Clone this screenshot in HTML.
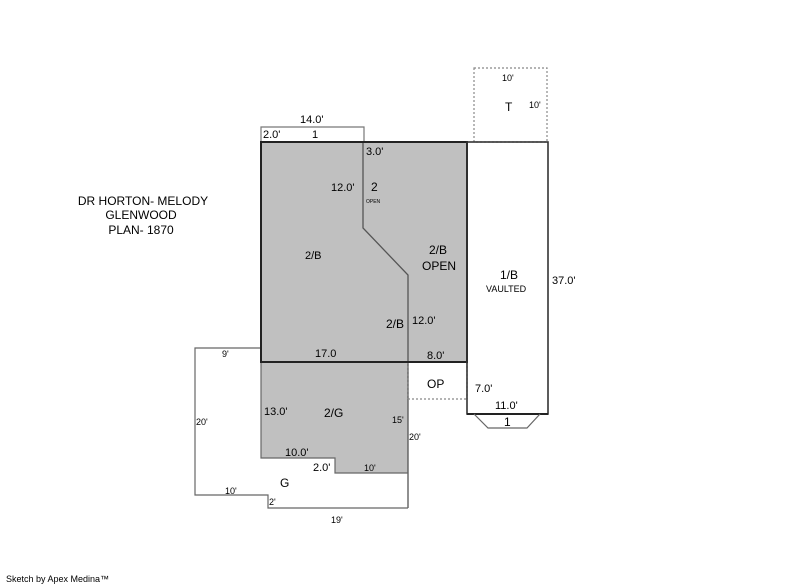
<!DOCTYPE html>
<html><head><style>body{margin:0;background:#fff}svg{display:block}text{font-family:"Liberation Sans",Arial,sans-serif;fill:#000}</style></head>
<body>
<svg width="800" height="587" viewBox="0 0 800 587" xmlns="http://www.w3.org/2000/svg">
<rect x="261" y="142" width="206" height="220" fill="#c0c0c0"/>
<polygon points="261,362 408,362 408,473 335,473 335,458 261,458" fill="#c0c0c0"/>
<rect x="474" y="68" width="73" height="74" fill="none" stroke="#888" stroke-width="1.2" stroke-dasharray="2,2"/>
<polyline points="261,142 261,127 364,127 364,142" fill="none" stroke="#777" stroke-width="1.2"/>
<polyline points="363,142 363,228 408,275 408,508" fill="none" stroke="#555" stroke-width="1.3"/>
<polyline points="261,362 261,458 335,458 335,473 408,473" fill="none" stroke="#666" stroke-width="1.2"/>
<polyline points="261,348 195,348 195,495 268,495 268,508 408,508" fill="none" stroke="#666" stroke-width="1.2"/>
<polyline points="408,399 467,399" fill="none" stroke="#888" stroke-width="1.2" stroke-dasharray="2,2"/>
<line x1="467" y1="362" x2="467" y2="399" stroke="#888" stroke-width="1.2" stroke-dasharray="2,2"/>
<line x1="408" y1="362" x2="408" y2="399" stroke="#777" stroke-width="1.2" stroke-dasharray="2,2"/>
<rect x="261" y="142" width="206" height="220" fill="none" stroke="#222" stroke-width="2"/>
<rect x="467" y="142" width="81" height="272" fill="none" stroke="#333" stroke-width="1.6"/>
<line x1="467" y1="414" x2="548" y2="414" stroke="#222" stroke-width="2"/>
<polyline points="474,414 488,428 527,428 540,414" fill="none" stroke="#666" stroke-width="1.2"/>
<g font-size="12" text-anchor="middle">
<text x="143" y="205">DR HORTON- MELODY</text>
<text x="141" y="219">GLENWOOD</text>
<text x="141" y="234">PLAN- 1870</text>
</g>
<g font-size="11">
<text x="300" y="123">14.0'</text>
<text x="263" y="138">2.0'</text>
<text x="312" y="138">1</text>
<text x="366" y="155">3.0'</text>
<text x="331" y="191">12.0'</text>
<text x="371" y="191" font-size="12">2</text>
<text x="366" y="203" font-size="5">OPEN</text>
<text x="305" y="259">2/B</text>
<text x="429" y="254" font-size="12">2/B</text>
<text x="422" y="270" font-size="12">OPEN</text>
<text x="500" y="279" font-size="12">1/B</text>
<text x="486" y="292" font-size="9">VAULTED</text>
<text x="552" y="284">37.0'</text>
<text x="386" y="328" font-size="12">2/B</text>
<text x="412" y="324">12.0'</text>
<text x="315" y="357">17.0</text>
<text x="427" y="359">8.0'</text>
<text x="222" y="357" font-size="9">9'</text>
<text x="427" y="388" font-size="12">OP</text>
<text x="475" y="392">7.0'</text>
<text x="495" y="409">11.0'</text>
<text x="504" y="426" font-size="12">1</text>
<text x="264" y="415">13.0'</text>
<text x="324" y="417" font-size="12">2/G</text>
<text x="392" y="423" font-size="9">15'</text>
<text x="196" y="425" font-size="9">20'</text>
<text x="409" y="440" font-size="9">20'</text>
<text x="285" y="456">10.0'</text>
<text x="313" y="471">2.0'</text>
<text x="364" y="471" font-size="9">10'</text>
<text x="280" y="487" font-size="12">G</text>
<text x="225" y="494" font-size="9">10'</text>
<text x="269" y="505" font-size="9">2'</text>
<text x="331" y="523" font-size="9">19'</text>
<text x="502" y="81" font-size="9">10'</text>
<text x="505" y="111" font-size="12">T</text>
<text x="529" y="108" font-size="9">10'</text>
<text x="6" y="582" font-size="9">Sketch by Apex Medina™</text>
</g>
</svg>
</body></html>
